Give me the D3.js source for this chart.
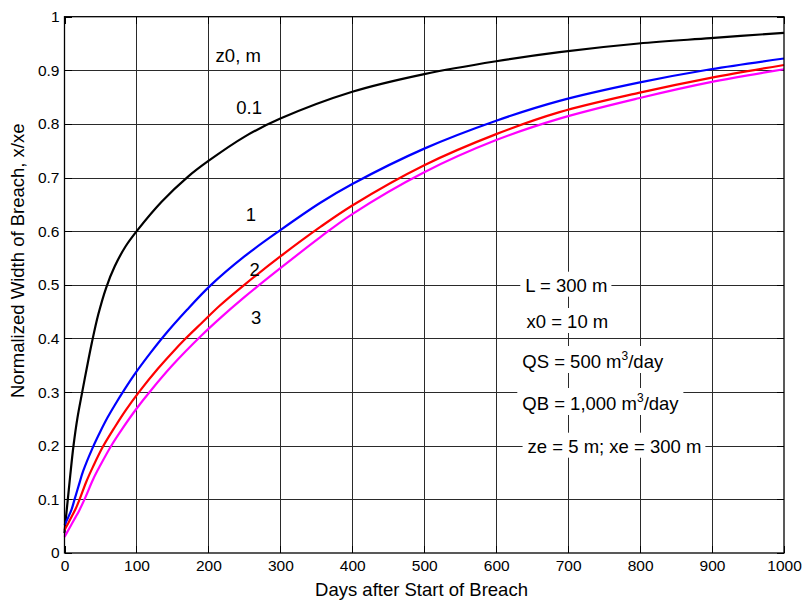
<!DOCTYPE html>
<html>
<head>
<meta charset="utf-8">
<script src="https://cdn.jsdelivr.net/npm/d3@7"></script>
<style>
  html, body { margin: 0; padding: 0; background: #fff; }
  svg { display: block; font-family: "Liberation Sans", Arial, sans-serif; }
</style>
</head>
<body>
<svg id="chart" width="803" height="601"></svg>
<script>
// ---- data (days after start of breach, normalized width x/xe) ----
const daysZ01 = [0, 2, 4.6, 8, 12.5, 18, 24.6, 31, 38, 47, 58, 70, 85, 102, 135, 171, 200, 250, 300, 400, 500, 600, 688, 798, 898, 1000];
const valsZ01 = [0.037, 0.066, 0.1, 0.145, 0.2, 0.252, 0.3, 0.345, 0.392, 0.445, 0.495, 0.535, 0.572, 0.603, 0.655, 0.701, 0.731, 0.776, 0.81, 0.86, 0.893, 0.917, 0.934, 0.95, 0.96, 0.97];
const daysZ1 = [0, 5, 10, 14, 20, 26, 39.4, 50, 60, 70, 83.5, 100, 120, 139, 170, 203, 250, 300, 355.6, 400, 500, 600, 688, 798, 898, 1000];
const valsZ1 = [0.052, 0.066, 0.082, 0.1, 0.127, 0.153, 0.197, 0.227, 0.253, 0.276, 0.305, 0.338, 0.374, 0.406, 0.453, 0.499, 0.553, 0.602, 0.653, 0.688, 0.754, 0.806, 0.843, 0.877, 0.902, 0.922];
const daysZ2 = [0, 5, 10, 15, 21, 30, 40, 53.3, 70, 85, 104, 130, 150, 167, 190, 215.6, 250, 300, 355.6, 400, 500, 600, 688, 798, 898, 1000];
const valsZ2 = [0.043, 0.055, 0.068, 0.081, 0.1, 0.132, 0.162, 0.198, 0.235, 0.266, 0.301, 0.344, 0.374, 0.398, 0.428, 0.461, 0.5, 0.553, 0.608, 0.648, 0.723, 0.781, 0.822, 0.858, 0.886, 0.91];
const daysZ3 = [0, 5, 10, 15, 20, 27.8, 40, 50, 65, 80, 100, 120.6, 150, 190, 215.6, 250, 300, 355.6, 400, 500, 600, 688, 798, 898, 1000];
const valsZ3 = [0.03, 0.042, 0.054, 0.066, 0.078, 0.1, 0.138, 0.164, 0.2, 0.231, 0.269, 0.304, 0.35, 0.405, 0.437, 0.477, 0.531, 0.589, 0.632, 0.71, 0.77, 0.81, 0.848, 0.878, 0.902];
const seriesNames = ["0.1", "1", "2", "3"];
const seriesColors = ["#000000", "#0000ff", "#ff0000", "#ff00ff"];
const xTicks = [0, 100, 200, 300, 400, 500, 600, 700, 800, 900, 1000];
const yTicks = [0, 0.1, 0.2, 0.3, 0.4, 0.5, 0.6, 0.7, 0.8, 0.9, 1];
const yTickLabels = ["0", "0.1", "0.2", "0.3", "0.4", "0.5", "0.6", "0.7", "0.8", "0.9", "1"];
const xLabel = "Days after Start of Breach";
const yLabel = "Normalized Width of Breach, x/xe";

// ---- layout ----
const svg = d3.select("#chart");
const L = 64.5, R = 784, T = 16.7, B = 553;
const x = d3.scaleLinear().domain([0, 1000]).range([L, R]);
const y = d3.scaleLinear().domain([0, 1]).range([B, T]);
const fsTick = 15.5, fsText = 18.5;

// grid
const grid = svg.append("g").attr("stroke", "#2a2a2a").attr("stroke-width", 1).attr("shape-rendering", "crispEdges");
grid.selectAll("line.v").data(xTicks.slice(1, -1)).join("line")
  .attr("x1", d => Math.round(x(d)) + 0.5).attr("x2", d => Math.round(x(d)) + 0.5)
  .attr("y1", T).attr("y2", B);
grid.selectAll("line.h").data(yTicks.slice(1, -1)).join("line")
  .attr("y1", d => Math.round(y(d)) + 0.5).attr("y2", d => Math.round(y(d)) + 0.5)
  .attr("x1", L).attr("x2", R);

// inward ticks on all four sides
const tk = 7;
const ticks = svg.append("g").attr("stroke", "#000").attr("stroke-width", 1).attr("shape-rendering", "crispEdges");
xTicks.forEach(d => {
  const px = Math.round(x(d)) + 0.5;
  ticks.append("line").attr("x1", px).attr("x2", px).attr("y1", B).attr("y2", B - tk);
  ticks.append("line").attr("x1", px).attr("x2", px).attr("y1", T).attr("y2", T + tk);
});
yTicks.forEach(d => {
  const py = Math.round(y(d)) + 0.5;
  ticks.append("line").attr("x1", L).attr("x2", L + tk).attr("y1", py).attr("y2", py);
  ticks.append("line").attr("x1", R).attr("x2", R - tk).attr("y1", py).attr("y2", py);
});

// parameter annotations with white background
const params = [
  {x: 525.3, y: 291.7, parts: [["L = 300 m"]]},
  {x: 526.5, y: 328, parts: [["x0 = 10 m"]]},
  {x: 522.3, y: 368, parts: [["QS = 500 m"], ["3", true], ["/day"]]},
  {x: 522.3, y: 410, parts: [["QB = 1,000 m"], ["3", true], ["/day"]]},
  {x: 527.6, y: 452.7, parts: [["ze = 5 m; xe = 300 m"]]}
];
const annG = svg.append("g");
params.forEach(p => {
  const g = annG.append("g");
  const rect = g.append("rect").attr("fill", "#fff");
  const t = g.append("text").attr("x", p.x).attr("y", p.y).attr("font-size", fsText).attr("fill", "#000");
  let sup = false;
  p.parts.forEach(([s, isSup]) => {
    const ts = t.append("tspan").text(s);
    if (isSup) { ts.attr("font-size", 12).attr("dy", -8); sup = true; }
    else if (sup) { ts.attr("dy", 8); sup = false; }
  });
  const bb = t.node().getBBox();
  rect.attr("x", bb.x - 5).attr("y", bb.y - 3).attr("width", bb.width + 9).attr("height", bb.height + 4);
});

// curves
const allSeries = [
  {d: daysZ01, v: valsZ01},
  {d: daysZ1, v: valsZ1},
  {d: daysZ2, v: valsZ2},
  {d: daysZ3, v: valsZ3}
];
const line = d3.line().x(p => x(p[0])).y(p => y(p[1])).curve(d3.curveCatmullRom.alpha(0.5));
svg.append("g").selectAll("path").data(allSeries).join("path")
  .attr("d", s => line(s.d.map((dd, i) => [dd, s.v[i]])))
  .attr("fill", "none")
  .attr("stroke", (s, i) => seriesColors[i])
  .attr("stroke-width", 2.2)
  .attr("stroke-linejoin", "round");

// curve labels
const curveLabels = [
  {t: "z0, m", x: 215.6, y: 61.5},
  {t: seriesNames[0], x: 236.3, y: 114},
  {t: seriesNames[1], x: 245.7, y: 221},
  {t: seriesNames[2], x: 249.5, y: 276},
  {t: seriesNames[3], x: 251, y: 324}
];
svg.append("g").selectAll("text").data(curveLabels).join("text")
  .attr("x", d => d.x).attr("y", d => d.y)
  .attr("font-size", fsText).attr("fill", "#000")
  .text(d => d.t);

// axes box
svg.append("rect").attr("x", L).attr("y", T).attr("width", R - L).attr("height", B - T)
  .attr("fill", "none").attr("stroke", "#000").attr("stroke-width", 1.3);

// tick labels via d3 axes
const xAxis = d3.axisBottom(x).tickValues(xTicks).tickSize(0).tickPadding(7).tickFormat(d3.format("d"));
const xa = svg.append("g").attr("transform", `translate(0,${B})`).call(xAxis);
xa.select(".domain").remove();
xa.selectAll("text").attr("font-size", fsTick).attr("fill", "#000").attr("font-family", "Liberation Sans, Arial, sans-serif");

const yAxis = d3.axisLeft(y).tickValues(yTicks).tickSize(0).tickPadding(5).tickFormat((d, i) => yTickLabels[i]);
const ya = svg.append("g").attr("transform", `translate(${L},0)`).call(yAxis);
ya.select(".domain").remove();
ya.selectAll("text").attr("font-size", fsTick).attr("fill", "#000").attr("font-family", "Liberation Sans, Arial, sans-serif");

// axis titles
svg.append("text").attr("x", 421.5).attr("y", 596).attr("text-anchor", "middle")
  .attr("font-size", fsText).attr("fill", "#000").text(xLabel);
svg.append("text").attr("transform", "translate(24,398) rotate(-90)").attr("text-anchor", "start")
  .attr("font-size", fsText).attr("fill", "#000").text(yLabel);
</script>
</body>
</html>
